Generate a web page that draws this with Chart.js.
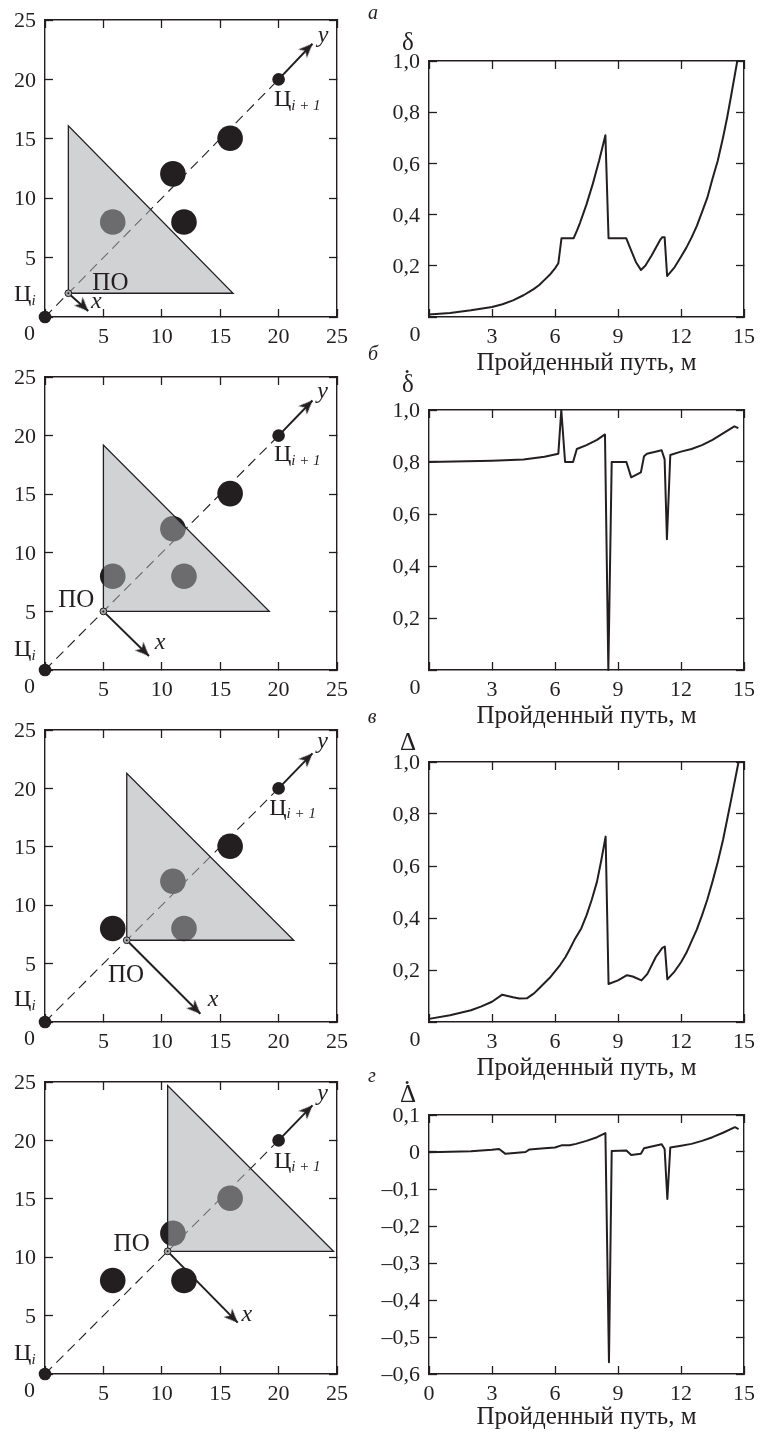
<!DOCTYPE html>
<html lang="ru">
<head>
<meta charset="utf-8">
<title>Пройденный путь</title>
<script src="https://cdn.jsdelivr.net/npm/chart.js@4/dist/chart.umd.min.js"></script>
<style>
    html, body { margin: 0; padding: 0; background: #fff; }
    body { position: relative; width: 770px; height: 1432px; overflow: hidden; }
    canvas { position: absolute; }
</style>
</head>
<body>
<canvas id="mapA"></canvas>
<canvas id="mapB"></canvas>
<canvas id="mapC"></canvas>
<canvas id="mapD"></canvas>
<canvas id="plotA"></canvas>
<canvas id="plotB"></canvas>
<canvas id="plotC"></canvas>
<canvas id="plotD"></canvas>
<script>
// data
const mapTicks = ['', '5', '10', '15', '20', '25'];
const pathTicks = ['', '3', '6', '9', '12', '15'];
const pathTicksZero = ['0', '3', '6', '9', '12', '15'];
const unitTicks = ['', '0,2', '0,4', '0,6', '0,8', '1,0'];
const rateTicks = ['–0,6', '–0,5', '–0,4', '–0,3', '–0,2', '–0,1', '0', '0,1'];
const pathTitle = 'Пройденный путь, м';

const obstacles = [[15.85, 15.05], [10.95, 12.05], [11.9, 8.0], [5.8, 8.0]];
const targetStart = [0, 0];
const targetEnd = [20, 20];
const yArrowTip = [22.9, 23];

const originA = [2, 2],       hypotA = 16.1, xTipA = [3.7, 0.5];
const originB = [5, 5],       hypotB = 19.2, xTipB = [8.9, 1.2];
const originC = [7, 7],       hypotC = 21.3, xTipC = [13.3, 0.7];
const originD = [10.5, 10.5], hypotD = 24.7, xTipD = [16.5, 4.4];

const pathA = [0, 1, 2, 3, 3.5, 4, 4.5, 4.75, 5, 5.25, 5.5, 5.75, 6, 6.16, 6.31, 6.89, 7.05, 7.2, 7.35, 7.5, 7.65, 7.8, 7.95, 8.1, 8.25, 8.4, 8.55, 9.39, 9.6, 9.85, 10.09, 10.3, 10.6, 11.0, 11.11, 11.22, 11.34, 11.7, 12, 12.25, 12.5, 12.75, 13, 13.25, 13.5, 13.75, 14, 14.2, 14.4, 14.68];
const deltaA = [0.01, 0.016, 0.026, 0.039, 0.05, 0.065, 0.085, 0.097, 0.11, 0.125, 0.145, 0.165, 0.19, 0.21, 0.308, 0.308, 0.338, 0.37, 0.405, 0.44, 0.48, 0.52, 0.565, 0.61, 0.66, 0.71, 0.308, 0.308, 0.265, 0.215, 0.184, 0.2, 0.24, 0.3, 0.312, 0.312, 0.16, 0.195, 0.235, 0.27, 0.31, 0.355, 0.41, 0.465, 0.54, 0.61, 0.7, 0.78, 0.87, 1.0];

const pathB = [0, 3, 4.5, 5.5, 6.16, 6.3, 6.48, 6.86, 7.04, 7.5, 8, 8.38, 8.54, 8.7, 9.4, 9.63, 10.09, 10.24, 10.38, 11.08, 11.22, 11.33, 11.49, 12, 12.5, 13, 13.5, 14, 14.54, 14.73];
const deltaB = [0.8, 0.805, 0.81, 0.82, 0.832, 1.0, 0.8, 0.8, 0.85, 0.865, 0.885, 0.906, 0, 0.8, 0.8, 0.741, 0.76, 0.822, 0.832, 0.845, 0.81, 0.503, 0.827, 0.84, 0.85, 0.865, 0.885, 0.91, 0.937, 0.93];

const pathC = [0, 1, 2, 2.5, 3, 3.49, 4, 4.3, 4.66, 5, 5.25, 5.5, 5.75, 6, 6.25, 6.5, 6.7, 6.92, 7.25, 7.5, 7.75, 8, 8.2, 8.41, 8.55, 9, 9.43, 9.7, 10.12, 10.4, 10.8, 11.11, 11.23, 11.35, 11.7, 12, 12.25, 12.5, 12.75, 13, 13.25, 13.5, 13.75, 14, 14.2, 14.4, 14.74];
const deltaC = [0.012, 0.026, 0.045, 0.06, 0.078, 0.105, 0.095, 0.09, 0.091, 0.11, 0.13, 0.15, 0.17, 0.195, 0.22, 0.25, 0.28, 0.315, 0.36, 0.41, 0.47, 0.54, 0.62, 0.713, 0.146, 0.16, 0.18, 0.175, 0.16, 0.185, 0.25, 0.285, 0.29, 0.164, 0.195, 0.23, 0.265, 0.31, 0.355, 0.41, 0.47, 0.54, 0.615, 0.7, 0.78, 0.86, 1.0];

const pathD = [0, 2, 3, 3.34, 3.64, 4.2, 4.6, 4.79, 5.5, 6, 6.31, 6.7, 7, 7.5, 8, 8.4, 8.57, 8.7, 9.4, 9.63, 10.09, 10.24, 10.45, 11.08, 11.22, 11.35, 11.49, 12, 12.5, 13, 13.5, 14, 14.57, 14.74];
const deltaD = [-0.001, 0.002, 0.006, 0.008, -0.005, -0.002, 0, 0.007, 0.01, 0.012, 0.018, 0.018, 0.022, 0.03, 0.04, 0.051, -0.568, 0.003, 0.004, -0.008, -0.005, 0.01, 0.013, 0.021, 0.008, -0.127, 0.012, 0.017, 0.022, 0.03, 0.04, 0.052, 0.067, 0.062];

const ink = '#231f20';
const serif = '"Liberation Serif", serif';

// text that chart.js has no slot for: x/y are data values, dx/dy are pixels from the frame corner
const notesPlugin = {
    id: 'notes',
    afterDraw(chart, args, opts) {
        const ctx = chart.ctx;
        const area = chart.chartArea;
        ctx.save();
        ctx.fillStyle = ink;
        ctx.textBaseline = 'middle';
        (opts.items || []).forEach(item => {
            const px = item.dx !== undefined ? area.left + item.dx : chart.scales.x.getPixelForValue(item.x);
            const py = item.dy !== undefined ? area.top + item.dy : chart.scales.y.getPixelForValue(item.y);
            let cursor = px;
            ctx.textAlign = item.runs ? 'left' : 'center';
            (item.runs || [{ text: item.text, font: item.font }]).forEach(run => {
                ctx.font = run.font;
                ctx.fillText(run.text, cursor, py + (run.drop || 0));
                cursor += ctx.measureText(run.text).width;
            });
        });
        ctx.restore();
    }
};
Chart.register(notesPlugin);

function arrowHead() {
    const c = document.createElement('canvas');
    c.width = 32;
    c.height = 32;
    const g = c.getContext('2d');
    g.fillStyle = ink;
    g.beginPath();
    g.moveTo(16, 16);
    g.lineTo(22, 30);
    g.lineTo(16, 26);
    g.lineTo(10, 30);
    g.closePath();
    g.fill();
    return c;
}
const head = arrowHead();

function pts(list) {
    return list.map(p => ({ x: p[0], y: p[1] }));
}

function axis(position, min, max, step, labels, extra) {
    const horizontal = position === 'bottom' || position === 'top';
    return {
        type: 'linear',
        position: position,
        min: min,
        max: max,
        border: { color: ink, width: 1.4 },
        grid: { drawOnChartArea: false, tickLength: -8, tickColor: ink, tickWidth: 1.3 },
        ticks: {
            display: !!labels,
            stepSize: step,
            autoSkip: false,
            maxRotation: 0,
            color: ink,
            font: { family: serif, size: 22 },
            padding: horizontal ? 15 : 17,
            labelOffset: horizontal ? 0 : 1.5,
            callback: (v, i) => labels ? labels[i] : ''
        },
        afterFit: s => {
            if (horizontal) s.height = position === 'bottom' ? extra : 0;
            else s.width = position === 'left' ? extra : 0;
        }
    };
}

function place(id, frame, canvasLeft, canvasWidth, topPad, bottomPad) {
    const canvas = document.getElementById(id);
    canvas.width = canvasWidth;
    canvas.height = topPad + (frame.bottom - frame.top) + bottomPad;
    canvas.style.left = canvasLeft + 'px';
    canvas.style.top = (frame.top - topPad) + 'px';
    canvas.style.width = canvas.width + 'px';
    canvas.style.height = canvas.height + 'px';
    return canvas;
}

const noteFont = '22px ' + serif;
const poFont = '25px ' + serif;
const axisLetter = 'italic 24px ' + serif;
const panelFont = 'italic 20px ' + serif;

function tsLabel(x, y, plus) {
    const runs = [{ text: 'Ц', font: '24px ' + serif },
                  { text: plus ? 'i + 1' : 'i', font: 'italic 15px ' + serif, drop: 6 }];
    return { x: x, y: y, runs: runs };
}

function mapChart(id, frame, origin, hypot, xTip, labels) {
    const topPad = 34;
    const canvas = place(id, frame, 0, 385, topPad, 40);
    const H = frame.bottom - frame.top;
    const items = labels.concat([{ text: '0', font: noteFont, dx: -15.5, dy: H + 17 }]);
    new Chart(canvas, {
        type: 'scatter',
        data: {
            datasets: [
                // origin marker
                { data: pts([origin]), pointRadius: 1, pointBackgroundColor: ink, pointBorderWidth: 0, clip: false },
                { data: pts([origin]), pointRadius: 3.4, pointBackgroundColor: '#a7a9ac', pointBorderColor: ink, pointBorderWidth: 1, clip: false },
                // triangle edges and see-through fill, over the obstacles
                {
                    data: pts([origin, [origin[0], hypot], [hypot, origin[1]], origin]),
                    showLine: true, tension: 0, pointRadius: 0, borderColor: ink, borderWidth: 1.3, clip: false
                },
                {
                    data: pts([[origin[0], hypot], [hypot, origin[1]]]),
                    showLine: true, tension: 0, pointRadius: 0, borderWidth: 0,
                    fill: { target: { value: origin[1] } }, backgroundColor: 'rgba(171,173,176,0.545)', clip: false
                },
                // axes of the local frame
                {
                    data: pts([origin, xTip]),
                    showLine: true, tension: 0, borderColor: ink, borderWidth: 2,
                    pointRadius: [0, 4], pointStyle: head, pointRotation: 135, clip: false
                },
                {
                    data: pts([targetEnd, yArrowTip]),
                    showLine: true, tension: 0, borderColor: ink, borderWidth: 2,
                    pointRadius: [0, 4], pointStyle: head, pointRotation: 45, clip: false
                },
                { data: pts([targetStart, targetEnd]), pointRadius: 6.3, pointBackgroundColor: ink, pointBorderWidth: 0, clip: false },
                { data: pts(obstacles), pointRadius: 12.8, pointBackgroundColor: ink, pointBorderWidth: 0, clip: false },
                {
                    data: pts([targetStart, targetEnd]),
                    showLine: true, tension: 0, pointRadius: 0, borderColor: ink, borderWidth: 1.1, borderDash: [10, 6], clip: false
                }
            ]
        },
        options: {
            responsive: false,
            animation: false,
            events: [],
            layout: { autoPadding: false, padding: { left: 0, right: 385 - frame.right, top: topPad, bottom: 0 } },
            plugins: { legend: { display: false }, tooltip: { enabled: false }, notes: { items: items } },
            scales: {
                x: axis('bottom', 0, 25, 5, mapTicks, 40),
                y: axis('left', 0, 25, 5, mapTicks, frame.left),
                x2: axis('top', 0, 25, 5, null),
                y2: axis('right', 0, 25, 5, null)
            }
        }
    });
}

function pathChart(id, frame, path, values, yMin, yMax, yStep, yLabels, xLabels, titleGap, items) {
    const canvasLeft = 370;
    const topPad = 50;
    const canvas = place(id, frame, canvasLeft, 400, topPad, 62);
    new Chart(canvas, {
        type: 'scatter',
        data: {
            datasets: [{
                data: path.map((p, i) => ({ x: p, y: values[i] })),
                showLine: true, tension: 0, pointRadius: 0, borderColor: ink, borderWidth: 2,
                borderJoinStyle: 'round', clip: false
            }]
        },
        options: {
            responsive: false,
            animation: false,
            events: [],
            layout: { autoPadding: false, padding: { left: 0, right: 770 - frame.right, top: topPad, bottom: 0 } },
            plugins: { legend: { display: false }, tooltip: { enabled: false }, notes: { items: items } },
            scales: {
                x: Object.assign(axis('bottom', 0, 15, 3, xLabels, 62), {
                    title: { display: true, text: pathTitle, color: ink, font: { family: serif, size: 25 }, padding: { top: 0, bottom: titleGap } }
                }),
                y: axis('left', yMin, yMax, yStep, yLabels, frame.left - canvasLeft),
                x2: axis('top', 0, 15, 3, null),
                y2: axis('right', yMin, yMax, yStep, null)
            }
        }
    });
}

mapChart('mapA', { left: 45, right: 337, top: 20, bottom: 317 }, originA, hypotA, xTipA, [
    { text: 'ПО', font: poFont, x: 5.6, y: 2.8 },
    { text: 'x', font: axisLetter, x: 4.4, y: 1.25 },
    { text: 'y', font: axisLetter, x: 23.8, y: 23.65 },
    tsLabel(-2.65, 1.85, false),
    tsLabel(19.6, 18.27, true),
    { text: 'а', font: panelFont, dx: 328, dy: -6 }
]);
mapChart('mapB', { left: 45, right: 337, top: 377, bottom: 670 }, originB, hypotB, xTipB, [
    { text: 'ПО', font: poFont, x: 2.68, y: 5.97 },
    { text: 'x', font: axisLetter, x: 9.85, y: 2.33 },
    { text: 'y', font: axisLetter, x: 23.77, y: 23.75 },
    tsLabel(-2.65, 1.7, false),
    tsLabel(19.6, 18.35, true),
    { text: 'б', font: panelFont, dx: 328, dy: -22 }
]);
mapChart('mapC', { left: 45, right: 337, top: 730, bottom: 1022 }, originC, hypotC, xTipC, [
    { text: 'ПО', font: poFont, x: 6.94, y: 4.0 },
    { text: 'x', font: axisLetter, x: 14.4, y: 1.88 },
    { text: 'y', font: axisLetter, x: 23.77, y: 24.0 },
    tsLabel(-2.65, 1.88, false),
    tsLabel(19.2, 18.3, true),
    { text: 'в', font: panelFont, dx: 327, dy: -12 }
]);
mapChart('mapD', { left: 45, right: 337, top: 1082, bottom: 1374 }, originD, hypotD, xTipD, [
    { text: 'ПО', font: poFont, x: 7.42, y: 11.07 },
    { text: 'x', font: axisLetter, x: 17.27, y: 5.08 },
    { text: 'y', font: axisLetter, x: 23.77, y: 24.0 },
    tsLabel(-2.65, 1.74, false),
    tsLabel(19.6, 18.2, true),
    { text: 'г', font: panelFont, dx: 327, dy: -5 }
]);

function zeroNote(h) {
    return { text: '0', font: noteFont, dx: -14, dy: h + 18 };
}
function symbol(text, dy) {
    return { text: text, font: '25px ' + serif, dx: -21, dy: dy };
}
function overDot(dy) {
    return { text: '.', font: '25px ' + serif, dx: -22, dy: dy };
}

pathChart('plotA', { left: 429, right: 757, top: 61, bottom: 317 }, pathA, deltaA, 0, 1, 0.2, unitTicks, pathTicks, 1, [zeroNote(256), symbol('δ', -18)]);
pathChart('plotB', { left: 429, right: 757, top: 410, bottom: 670 }, pathB, deltaB, 0, 1, 0.2, unitTicks, pathTicks, 1, [zeroNote(260), symbol('δ', -25), overDot(-44)]);
pathChart('plotC', { left: 429, right: 757, top: 762, bottom: 1022 }, pathC, deltaC, 0, 1, 0.2, unitTicks, pathTicks, 1, [zeroNote(260), symbol('Δ', -19)]);
pathChart('plotD', { left: 429, right: 757, top: 1115, bottom: 1374 }, pathD, deltaD, -0.6, 0.1, 0.1, rateTicks, pathTicksZero, 4, [symbol('Δ', -20), overDot(-38)]);
</script>
</body>
</html>
